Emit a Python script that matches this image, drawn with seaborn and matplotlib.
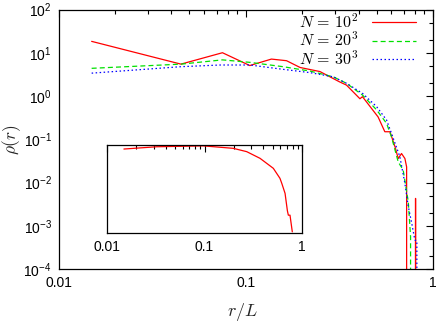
import numpy as np
import pandas as pd
import seaborn as sns
import matplotlib
matplotlib.use("Agg")
import matplotlib.pyplot as plt
from matplotlib.ticker import LogLocator, FixedLocator, NullFormatter, FuncFormatter, NullLocator

# ---------------- data ----------------
red_x = [0.015, 0.045, 0.075, 0.105, 0.137, 0.165, 0.195, 0.249, 0.316, 0.345,
         0.407, 0.42, 0.509, 0.553, 0.589, 0.627, 0.652, 0.679, 0.708, 0.723,
         0.745, 0.807, 0.83]
red_y = [18.5, 5.5, 10.1, 5.1, 7.2, 6.6, 4.6, 3.7, 2.15, 1.8,
         0.87, 0.97, 0.33, 0.15, 0.15, 0.067, 0.036, 0.047, 0.036, 0.023,
         0.0, 0.0043, 0.0]

green_x = [0.015, 0.045, 0.075, 0.105, 0.158, 0.22, 0.293, 0.345, 0.42, 0.50,
           0.565, 0.60, 0.652, 0.693, 0.738, 0.759, 0.775]
green_y = [4.4, 5.5, 6.9, 6.05, 4.8, 3.8, 2.8, 1.98, 1.06, 0.48,
           0.234, 0.115, 0.030, 0.0195, 0.0036, 0.00056, 0.0]

blue_x = [0.015, 0.045, 0.073, 0.105, 0.158, 0.22, 0.293, 0.345, 0.42, 0.50,
          0.565, 0.60, 0.665, 0.708, 0.738, 0.77, 0.80, 0.82, 0.835]
blue_y = [3.4, 4.8, 5.25, 5.25, 4.17, 3.5, 2.8, 1.98, 1.16, 0.57,
          0.28, 0.138, 0.040, 0.0095, 0.0028, 0.00114, 0.00047, 0.00045, 0.0]

inset_x = [0.0149, 0.0324, 0.097, 0.197, 0.271, 0.371, 0.508, 0.594, 0.62,
           0.67, 0.708, 0.724, 0.753, 0.795]
inset_y = [0.954, 0.98, 0.99, 0.962, 0.924, 0.848, 0.734, 0.62, 0.563,
           0.449, 0.25, 0.20, 0.20, 0.01]

labels = [r"$N\,=\,10^2$", r"$N\,=\,20^3$", r"$N\,=\,30^3$"]
x_ticks = [0.01, 0.1, 1]
x_ticklabels = ["0.01", "0.1", "1"]
y_ticks = [1e-4, 1e-3, 1e-2, 1e-1, 1e0, 1e1, 1e2]

# ---------------- style ----------------
sns.set_theme(style="white")
plt.rcParams["font.family"] = ["Liberation Sans", "DejaVu Sans"]
plt.rcParams["mathtext.fontset"] = "custom"
plt.rcParams["mathtext.rm"] = "Liberation Sans"
plt.rcParams["mathtext.it"] = "Liberation Sans:italic"
plt.rcParams["axes.unicode_minus"] = False

fig = plt.figure(figsize=(4.37, 3.22), dpi=100)
ax = fig.add_axes([0.1343, 0.1646, 0.8565, 0.8053])

colors = ["#ff0000", "#00e000", "#0000ff"]
styles = ["-", (0, (4, 2.5)), (0, (1.2, 2))]
series = [(red_x, red_y), (green_x, green_y), (blue_x, blue_y)]
for (xs, ys), c, ls, lab in zip(series, colors, styles, labels):
    df = pd.DataFrame({"x": xs, "y": ys})
    sns.lineplot(data=df, x="x", y="y", ax=ax, color=c, linestyle=ls,
                 linewidth=0.9, estimator=None, sort=False, label=lab)

ax.set_xscale("log")
ax.set_yscale("log", nonpositive="clip")
ax.set_xlim(0.01, 1)
ax.set_ylim(1e-4, 1e2)


def xfmt(v, p):
    i = int(np.argmin([abs(np.log10(t) - np.log10(v)) for t in x_ticks]))
    return x_ticklabels[i]


ax.xaxis.set_major_locator(FixedLocator(x_ticks))
ax.xaxis.set_major_formatter(FuncFormatter(xfmt))
ax.xaxis.set_minor_locator(LogLocator(base=10, subs=np.arange(2, 10)))
ax.xaxis.set_minor_formatter(NullFormatter())
ax.yaxis.set_major_locator(FixedLocator(y_ticks))
ax.yaxis.set_major_formatter(FuncFormatter(lambda v, p: r"10$^{%d}$" % int(round(np.log10(v)))))
ax.yaxis.set_minor_locator(LogLocator(base=10, subs=[2, 5]))
ax.yaxis.set_minor_formatter(NullFormatter())

ax.tick_params(which="both", direction="in", top=True, right=True, colors="black",
               labelsize=10, width=0.8)
ax.tick_params(which="major", length=5, pad=5)
ax.tick_params(which="minor", length=3)
for s in ax.spines.values():
    s.set_color("black")
    s.set_linewidth(0.9)

ax.set_xlabel(r"$r/L$", fontsize=13, math_fontfamily="cm")
ax.set_ylabel(r"$\rho(r)$", fontsize=12.5, math_fontfamily="cm")
ax.xaxis.set_label_coords(0.49, -0.125)
ax.yaxis.set_label_coords(-0.095, 0.5)

leg = ax.legend(loc="upper right", bbox_to_anchor=(0.955, 0.99), frameon=False,
                markerfirst=False, handlelength=2.75, handletextpad=0.9,
                labelspacing=0.0, borderaxespad=0, borderpad=0,
                prop={"size": 11.5})
for t in leg.get_texts():
    t.set_math_fontfamily("cm")
    t.set_color("black")

# ---------------- inset ----------------
ins = fig.add_axes([0.2449, 0.2773, 0.4462, 0.2724])
sns.lineplot(x=inset_x, y=inset_y, ax=ins, color="#ff0000", linewidth=0.9,
             estimator=None, sort=False)
ins.set_xscale("log")
ins.set_xlim(0.01, 1)
ins.set_ylim(0, 1)
ins.xaxis.set_major_locator(FixedLocator(x_ticks))
ins.xaxis.set_major_formatter(FuncFormatter(xfmt))
ins.xaxis.set_minor_locator(LogLocator(base=10, subs=np.arange(2, 10)))
ins.xaxis.set_minor_formatter(NullFormatter())
ins.yaxis.set_major_locator(NullLocator())
ins.yaxis.set_minor_locator(NullLocator())
ins.tick_params(which="both", direction="in", top=True, colors="black",
                labelsize=10, width=0.8)
ins.tick_params(which="major", length=5, pad=5)
ins.tick_params(which="minor", length=3)
ins.set_xlabel("")
ins.set_ylabel("")
for s in ins.spines.values():
    s.set_color("black")
    s.set_linewidth(0.9)

fig.savefig("out.png", dpi=100)
